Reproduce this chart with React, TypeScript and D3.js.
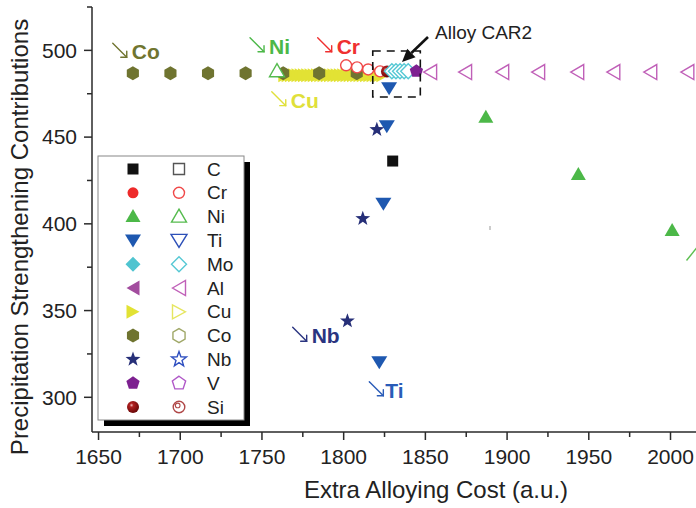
import React from 'react';
import * as d3 from 'd3';

// ---------- data ----------
const xTickValues = [1650, 1700, 1750, 1800, 1850, 1900, 1950, 2000];
const xMinorTicks = [1675, 1725, 1775, 1825, 1875, 1925, 1975];
const yTickValues = [300, 350, 400, 450, 500];
const yMinorTicks = [325, 375, 425, 475, 525];

const legendNames = ['C', 'Cr', 'Ni', 'Ti', 'Mo', 'Al', 'Cu', 'Co', 'Nb', 'V', 'Si'];

const cuX = [1764, 1766, 1768, 1770, 1772, 1774, 1776, 1778, 1780, 1782, 1784, 1786, 1788, 1790, 1792, 1794, 1796, 1798, 1800, 1802, 1804, 1806, 1808, 1810, 1812, 1814, 1816, 1818, 1820, 1822, 1824];
const cuY = [485.6, 485.6, 485.6, 485.6, 485.6, 485.6, 485.6, 485.6, 485.6, 485.6, 485.6, 485.6, 485.6, 485.6, 485.6, 485.6, 485.6, 485.6, 485.6, 485.6, 485.6, 485.6, 485.6, 485.6, 485.6, 485.6, 485.6, 485.6, 485.6, 485.6, 485.6];

const coX = [1671, 1694, 1717, 1740, 1763, 1785, 1808];
const coY = [486.8, 486.8, 486.8, 486.8, 486.8, 486.8, 486.8];

const niOpenX = [1759.2];
const niOpenY = [488];

const crOpenX = [1801.5, 1808.2, 1815, 1822.3];
const crOpenY = [491.4, 490.2, 489, 487.9];

const siX = [1826.5];
const siY = [487.8];

const moOpenX = [1829.5, 1832, 1834.5, 1837, 1839.5];
const moOpenY = [488, 488, 488, 488, 488];

const vX = [1844.5];
const vY = [488];

const alOpenX = [1852.9, 1874.3, 1897, 1919, 1942.9, 1965, 1987.6, 2010.3];
const alOpenY = [487.5, 487.5, 487.5, 487.5, 487.5, 487.5, 487.5, 487.5];

const niX = [1887, 1943.6, 2001];
const niY = [461.5, 428.4, 396.2];

const tiX = [1827.8, 1826.4, 1824.3, 1821.8];
const tiY = [478.1, 456.2, 411.6, 320.2];

const nbX = [1820.3, 1811.7, 1802.3];
const nbY = [454.3, 403, 344];

const cX = [1830];
const cY = [436.2];

const annLabels = ['Co', 'Ni', 'Cr', 'Cu', 'Nb', 'Ti'];
const annX = [1658.7, 1742.7, 1784.1, 1756, 1768.8, 1815.7];
const annY = [504.1, 507.3, 507.3, 476.2, 340.4, 309];

// ---------- styles ----------
const FONT = '"Liberation Sans", Arial, Helvetica, sans-serif';
const W = 696;
const H = 508;

const colors: Record<string, { fill: string; open: string }> = {
  C: { fill: '#111111', open: '#555555' },
  Cr: { fill: '#ee2a2a', open: '#f04848' },
  Ni: { fill: '#4cb848', open: '#55bb4e' },
  Ti: { fill: '#1e58b0', open: '#2d50b8' },
  Mo: { fill: '#4fc4d0', open: '#55c8d4' },
  Al: { fill: '#a24c9e', open: '#c060b8' },
  Cu: { fill: '#e2e234', open: '#e6e660' },
  Co: { fill: '#6f7430', open: '#a0a868' },
  Nb: { fill: '#262f78', open: '#3050c0' },
  V: { fill: '#7d2090', open: '#b058c8' },
  Si: { fill: '#8b1010', open: '#b04848' },
};
const annColors: Record<string, string> = {
  Co: '#707530', Ni: '#4cb848', Cr: '#ef3030', Cu: '#e0e03a', Nb: '#2a3480', Ti: '#2a5cb8',
};
const shapes: Record<string, string> = {
  C: 'square', Cr: 'circle', Ni: 'triUp', Ti: 'triDown', Mo: 'diamond', Al: 'triLeft',
  Cu: 'triRight', Co: 'hexagon', Nb: 'star', V: 'pentagon', Si: 'sphere',
};

function poly(pts: [number, number][]) {
  return 'M' + pts.map((p) => p[0].toFixed(2) + ',' + p[1].toFixed(2)).join('L') + 'Z';
}
function regular(n: number, r: number, rot: number) {
  const pts: [number, number][] = [];
  for (let i = 0; i < n; i++) {
    const a = rot + (i * 2 * Math.PI) / n;
    pts.push([r * Math.cos(a), r * Math.sin(a)]);
  }
  return poly(pts);
}
function starPath(ro: number, ri: number) {
  const pts: [number, number][] = [];
  for (let i = 0; i < 10; i++) {
    const r = i % 2 === 0 ? ro : ri;
    const a = -Math.PI / 2 + (i * Math.PI) / 5;
    pts.push([r * Math.cos(a), r * Math.sin(a)]);
  }
  return poly(pts);
}
function circlePath(r: number) {
  return `M${r},0A${r},${r} 0 1,1 ${-r},0A${r},${r} 0 1,1 ${r},0Z`;
}
function shapePath(shape: string): string {
  switch (shape) {
    case 'square': return 'M-5.5,-5.5H5.5V5.5H-5.5Z';
    case 'circle': return circlePath(5.5);
    case 'sphere': return circlePath(6);
    case 'triUp': return 'M0,-7.5L7.5,5.5L-7.5,5.5Z';
    case 'triDown': return 'M-8,-6L8,-6L0,7Z';
    case 'diamond': return 'M0,-7.5L7.5,0L0,7.5L-7.5,0Z';
    case 'triLeft': return 'M-6.5,0L6.5,-7.5L6.5,7.5Z';
    case 'triRight': return 'M6.5,0L-6.5,-7L-6.5,7Z';
    case 'hexagon': return regular(6, 7, -Math.PI / 2);
    case 'star': return starPath(7.8, 3.2);
    case 'pentagon': return regular(5, 7, -Math.PI / 2);
  }
  return '';
}

function Marker({ name, x, y, open }: { name: string; x: number; y: number; open?: boolean }) {
  const shape = shapes[name];
  const col = colors[name];
  if (shape === 'sphere') {
    if (open) {
      return (
        <g transform={`translate(${x},${y})`}>
          <path d={circlePath(5.8)} fill="#fff" stroke={col.open} strokeWidth={1.4} />
          <path d={circlePath(2.3)} transform="translate(-1.3,-1.6)" fill="none" stroke={col.open} strokeWidth={1.1} />
        </g>
      );
    }
    return <path d={shapePath(shape)} transform={`translate(${x},${y})`} fill="url(#siGrad)" />;
  }
  if (open) {
    return (
      <path d={shapePath(shape)} transform={`translate(${x},${y})`} fill="#fff" stroke={col.open} strokeWidth={1.4} strokeLinejoin="miter" />
    );
  }
  return <path d={shapePath(shape)} transform={`translate(${x},${y})`} fill={col.fill} />;
}

function SmallArrow({ x, y, color }: { x: number; y: number; color: string }) {
  const x2 = x + 14;
  const y2 = y + 14;
  return (
    <g stroke={color} strokeWidth={1.4} fill="none" strokeLinecap="round">
      <line x1={x} y1={y} x2={x2} y2={y2} />
      <polyline points={`${x2 - 6},${y2} ${x2},${y2} ${x2},${y2 - 6}`} />
    </g>
  );
}

export default function App() {
  const x = d3.scaleLinear().domain([1646, 2015.6]).range([92, 696]);
  const y = d3.scaleLinear().domain([280, 525]).range([432, 7]);
  const x0 = x.range()[0];
  const yBottom = y.range()[0];
  const yTop = y.range()[1];

  const series = (name: string, xs: number[], ys: number[], open?: boolean) =>
    xs.map((v, i) => <Marker key={name + (open ? 'o' : 'f') + i} name={name} x={x(v)} y={y(ys[i])} open={open} />);

  // legend layout
  const lgX = 98, lgY = 156, lgW = 146, lgH = 264;
  const rowY0 = 169, rowStep = 23.8;

  // CAR2 box in data units
  const boxX0 = x(1817.8), boxX1 = x(1846.9), boxY0 = y(499.6), boxY1 = y(473.1);
  const arrS = [x(1851.6), y(507.7)];
  const arrE = [x(1835.7), y(493.3)];
  const ang = Math.atan2(arrE[1] - arrS[1], arrE[0] - arrS[0]);
  const hl = 13, hw = 6;
  const bx = arrE[0] - hl * Math.cos(ang), by = arrE[1] - hl * Math.sin(ang);
  const head = `M${arrE[0]},${arrE[1]}L${bx + hw * Math.sin(ang)},${by - hw * Math.cos(ang)}L${bx - hw * Math.sin(ang)},${by + hw * Math.cos(ang)}Z`;

  return (
    <svg width={W} height={H} style={{ position: 'absolute', left: 0, top: 0, background: '#fff' }} fontFamily={FONT}>
      <defs>
        <radialGradient id="siGrad" cx="0.38" cy="0.35" r="0.65">
          <stop offset="0" stopColor="#f0c0c0" />
          <stop offset="0.25" stopColor="#b02020" />
          <stop offset="1" stopColor="#6a0808" />
        </radialGradient>
      </defs>
      <rect x={0} y={0} width={W} height={H} fill="#fff" />

      {/* axes */}
      <g stroke="#2a2a2a" strokeWidth={1.5}>
        <line x1={x0} y1={yTop} x2={x0} y2={yBottom} />
        <line x1={x0} y1={yBottom} x2={W} y2={yBottom} />
        {xTickValues.map((v) => <line key={'xt' + v} x1={x(v)} x2={x(v)} y1={yBottom} y2={yBottom + 8} />)}
        {xMinorTicks.map((v) => <line key={'xm' + v} x1={x(v)} x2={x(v)} y1={yBottom} y2={yBottom + 5} />)}
        {yTickValues.map((v) => <line key={'yt' + v} x1={x0 - 8} x2={x0} y1={y(v)} y2={y(v)} />)}
        {yMinorTicks.map((v) => <line key={'ym' + v} x1={x0 - 5} x2={x0} y1={y(v)} y2={y(v)} />)}
      </g>
      <g fontSize={21} fill="#222">
        {xTickValues.map((v) => (
          <text key={'xl' + v} x={x(v)} y={yBottom + 32} textAnchor="middle">{v}</text>
        ))}
        {yTickValues.map((v) => (
          <text key={'yl' + v} x={x0 - 15} y={y(v)} dy="0.35em" textAnchor="end">{v}</text>
        ))}
      </g>
      <text x={436} y={498} fontSize={24} textAnchor="middle" fill="#222">Extra Alloying Cost (a.u.)</text>
      <text transform="translate(28,237) rotate(-90)" fontSize={24} textAnchor="middle" fill="#222">Precipitation Strengthening Contributions</text>

      {/* data */}
      {series('Cu', cuX, cuY)}
      {series('Co', coX, coY)}
      {series('Ni', niOpenX, niOpenY, true)}
      {series('Cr', crOpenX, crOpenY, true)}
      {series('Si', siX, siY)}
      {series('Mo', moOpenX, moOpenY, true)}
      {series('V', vX, vY)}
      {series('Al', alOpenX, alOpenY, true)}
      {series('Ni', niX, niY)}
      {series('Ti', tiX, tiY)}
      {series('Nb', nbX, nbY)}
      {series('C', cX, cY)}

      {/* stray marks */}
      <line x1={490} y1={226} x2={490} y2={230} stroke="#999" strokeWidth={1} />
      <line x1={686.5} y1={260.5} x2={697} y2={247.5} stroke="#5cbf50" strokeWidth={1.4} />

      {/* CAR2 box & arrow */}
      <rect x={boxX0} y={boxY0} width={boxX1 - boxX0} height={boxY1 - boxY0} fill="none" stroke="#111" strokeWidth={1.6} strokeDasharray="8,6" />
      <line x1={arrS[0]} y1={arrS[1]} x2={bx} y2={by} stroke="#111" strokeWidth={2.6} />
      <path d={head} fill="#111" />
      <text x={x(1855.9)} y={y(506.6)} fontSize={19} fill="#222">Alloy CAR2</text>

      {/* element annotations */}
      {annLabels.map((lab, i) => {
        const ax = x(annX[i]);
        const ay = y(annY[i]);
        return (
          <g key={'ann' + lab}>
            <SmallArrow x={ax} y={ay} color={annColors[lab]} />
            <text x={ax + (lab === 'Ti' ? 16 : 19)} y={ay + 8.5} dy="0.36em" fontSize={21} fontWeight="bold" fill={annColors[lab]}>{lab}</text>
          </g>
        );
      })}

      {/* legend */}
      <rect x={lgX + 6} y={lgY + 6} width={lgW} height={lgH} fill="#000" />
      <rect x={lgX} y={lgY} width={lgW} height={lgH} fill="#fff" stroke="#888" strokeWidth={1} />
      {legendNames.map((n, i) => {
        const ry = rowY0 + i * rowStep;
        return (
          <g key={'lg' + n}>
            <Marker name={n} x={133} y={ry} />
            <Marker name={n} x={179} y={ry} open />
            <text x={207} y={ry} dy="0.35em" fontSize={19} fill="#222">{n}</text>
          </g>
        );
      })}
    </svg>
  );
}
